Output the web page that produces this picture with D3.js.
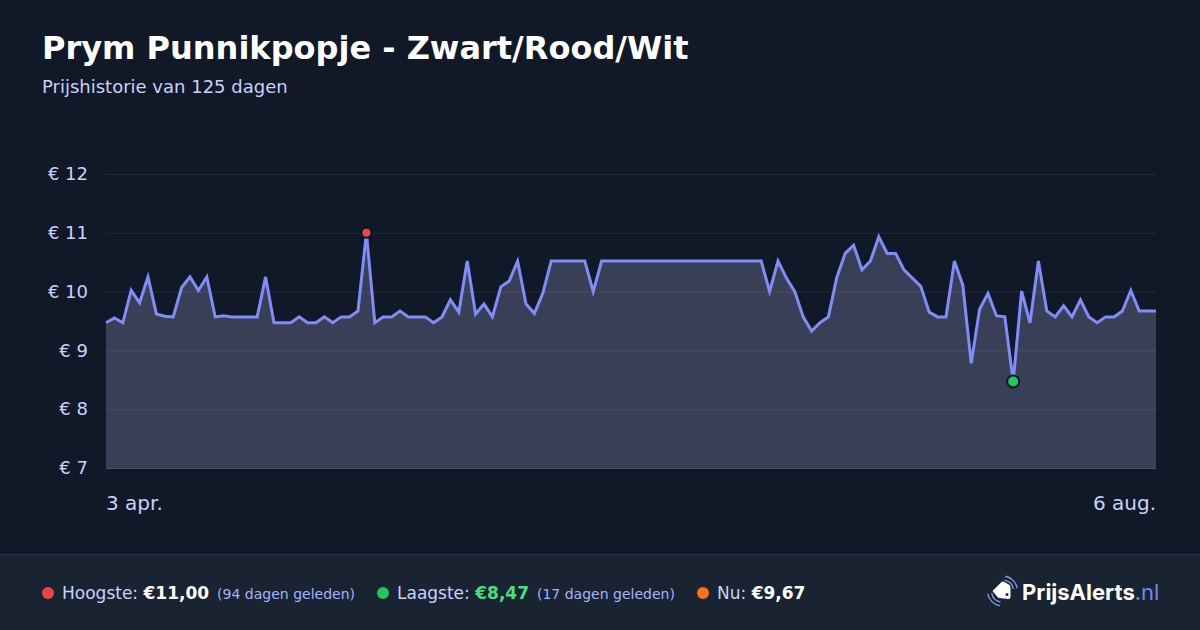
<!DOCTYPE html>
<html>
<head>
<meta charset="utf-8">
<script src="https://cdn.jsdelivr.net/npm/d3@7"></script>
<style>
  html, body { margin: 0; padding: 0; background: #111827; }
  svg { display: block; font-family: "DejaVu Sans", sans-serif; }
</style>
</head>
<body>
<div id="chart"></div>
<script>
// price per day (day 0 = 3 apr., day 125 = 6 aug.)
var prices = [
  9.47, 9.55, 9.47, 10.02, 9.81, 10.25, 9.62, 9.58, 9.57, 10.07,
  10.25, 10.02, 10.25, 9.57, 9.59, 9.57, 9.57, 9.57, 9.57, 10.25,
  9.47, 9.47, 9.47, 9.57, 9.47, 9.47, 9.57, 9.47, 9.57, 9.57,
  9.67, 11.00, 9.47, 9.57, 9.57, 9.67, 9.57, 9.57, 9.57, 9.47,
  9.57, 9.86, 9.65, 10.52, 9.62, 9.79, 9.57, 10.08, 10.18, 10.52,
  9.79, 9.63, 9.97, 10.52, 10.52, 10.52, 10.52, 10.52, 10.00, 10.52,
  10.52, 10.52, 10.52, 10.52, 10.52, 10.52, 10.52, 10.52, 10.52, 10.52,
  10.52, 10.52, 10.52, 10.52, 10.52, 10.52, 10.52, 10.52, 10.52, 10.00,
  10.52, 10.23, 10.00, 9.57, 9.33, 9.47, 9.57, 10.24, 10.65, 10.79,
  10.37, 10.52, 10.93, 10.65, 10.65, 10.37, 10.23, 10.09, 9.65, 9.57,
  9.57, 10.52, 10.11, 8.78, 9.70, 9.97, 9.59, 9.57, 8.47, 10.01,
  9.47, 10.52, 9.67, 9.57, 9.76, 9.57, 9.86, 9.57, 9.47, 9.57,
  9.57, 9.67, 10.02, 9.67, 9.67, 9.67
];
var yTicks = [7, 8, 9, 10, 11, 12];
var xLabels = ["3 apr.", "6 aug."];
var highDay = 31, lowDay = 108;

var W = 1200, H = 630;
var svg = d3.select("#chart").append("svg").attr("width", W).attr("height", H);

var x = d3.scaleLinear().domain([0, prices.length - 1]).range([106, 1156]);
var y = d3.scaleLinear().domain([7, 12]).range([468, 174]);

svg.append("rect").attr("width", W).attr("height", H).attr("fill", "#111827");

// header
svg.append("text").attr("x", 42).attr("y", 59)
  .attr("font-size", 32).attr("font-weight", 700).attr("fill", "#ffffff")
  .text("Prym Punnikpopje - Zwart/Rood/Wit");
svg.append("text").attr("x", 42).attr("y", 93)
  .attr("font-size", 18).attr("fill", "#c7d2fe")
  .text("Prijshistorie van 125 dagen");

// area goes under the gridlines
var area = d3.area().x(function(d, i) { return x(i); }).y0(y(7)).y1(function(d) { return y(d); });
var line = d3.line().x(function(d, i) { return x(i); }).y(function(d) { return y(d); });

svg.append("path").datum(prices).attr("d", area).attr("fill", "#9a9aca").attr("fill-opacity", 0.3);

// y axis
var yAxis = svg.append("g").attr("transform", "translate(106,0)")
  .call(d3.axisLeft(y).tickValues(yTicks).tickSize(-1050).tickFormat(function(d) { return "€ " + d; }));
yAxis.select(".domain").remove();
yAxis.selectAll("line").attr("stroke", "#ffffff").attr("stroke-opacity", function(d) { return d == 7 ? 0.25 : 0.08; });
yAxis.selectAll("text").attr("x", -18).attr("font-size", 18).attr("font-family", "DejaVu Sans").attr("fill", "#c7d2fe");

// x labels
svg.selectAll(".xlabel").data(xLabels).enter().append("text")
  .attr("class", "xlabel")
  .attr("x", function(d, i) { return i == 0 ? x(0) : x(prices.length - 1); })
  .attr("y", 510)
  .attr("text-anchor", function(d, i) { return i == 0 ? "start" : "end"; })
  .attr("font-size", 20).attr("fill", "#c7d2fe")
  .text(function(d) { return d; });

svg.append("path").datum(prices).attr("d", line)
  .attr("fill", "none").attr("stroke", "#818cf8").attr("stroke-width", 3).attr("stroke-linejoin", "miter");

// high and low dots
svg.append("circle").attr("cx", x(highDay)).attr("cy", y(prices[highDay])).attr("r", 5)
  .attr("fill", "#ef4444").attr("stroke", "#111827").attr("stroke-width", 2);
svg.append("circle").attr("cx", x(lowDay)).attr("cy", y(prices[lowDay])).attr("r", 6)
  .attr("fill", "#22c55e").attr("stroke", "#111827").attr("stroke-width", 2);

// footer
var foot = svg.append("g");
foot.append("rect").attr("y", 554).attr("width", W).attr("height", 76).attr("fill", "#1a2332");
foot.append("rect").attr("y", 554).attr("width", W).attr("height", 1).attr("fill", "#2a3350");

function stat(dotX, color, label, value, valueColor, note) {
  foot.append("circle").attr("cx", dotX).attr("cy", 593).attr("r", 6).attr("fill", color);
  var t = foot.append("text").attr("x", dotX + 14).attr("y", 599).attr("font-size", 17);
  t.append("tspan").attr("fill", "#c7d2fe").text(label + " ");
  t.append("tspan").attr("font-weight", 700).attr("fill", valueColor).text(value);
  if (note) {
    t.append("tspan").attr("dx", 8).attr("font-size", 14).attr("fill", "#a5b4fc").text(note);
  }
}
stat(48, "#ef4444", "Hoogste:", "€11,00", "#ffffff", "(94 dagen geleden)");
stat(383, "#22c55e", "Laagste:", "€8,47", "#4ade80", "(17 dagen geleden)");
stat(703, "#f97316", "Nu:", "€9,67", "#ffffff", null);

// logo
var logo = foot.append("g").attr("transform", "translate(1002.5,591)");
logo.append("path")
  .attr("d", "M-10,0 L-1,-9 Q0,-10 2,-9 L7,-6 Q8,-5 8,-3 L8,6 Q8,8 6,8 L-3,7 Q-4,7 -5,6 Z")
  .attr("fill", "#ffffff");
logo.append("circle").attr("cx", 4.5).attr("cy", 3.5).attr("r", 1.5).attr("fill", "#1a2332");
[11, 15].forEach(function(r) {
  [Math.PI / 4, Math.PI * 5 / 4].forEach(function(mid) {
    logo.append("path").attr("fill", "none").attr("stroke", "#8aa0ea").attr("stroke-width", 1.3)
      .attr("d", d3.arc()({ innerRadius: r, outerRadius: r, startAngle: mid - 0.6, endAngle: mid + 0.6 }));
  });
});
var brand = foot.append("text").attr("x", 1022).attr("y", 600)
  .attr("font-family", "Inter").attr("font-size", 22);
brand.append("tspan").attr("font-weight", 700).attr("fill", "#ffffff").text("PrijsAlerts");
brand.append("tspan").attr("fill", "#6f8de0").text(".nl");
</script>
</body>
</html>
